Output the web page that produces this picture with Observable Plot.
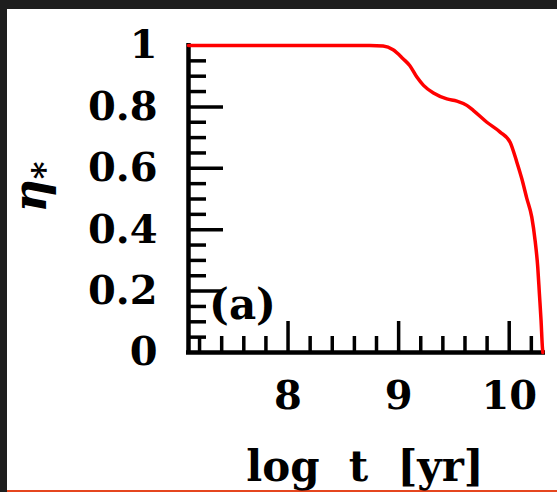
<!DOCTYPE html>
<html><head><meta charset="utf-8">
<script src="https://cdn.jsdelivr.net/npm/d3@7"></script>
<script src="https://cdn.jsdelivr.net/npm/@observablehq/plot@0.6"></script>
<style>
html,body{margin:0;padding:0;background:#1e1e1e;width:557px;height:492px;overflow:hidden}
#wrap{position:absolute;left:7px;top:9px;width:550px;height:481px;background:#fff;border-bottom:2px solid #e5461f}
</style></head><body><div id="wrap"></div>
<script>
// log t [yr]
const logT = [7.1, 8.74, 8.86, 8.95, 9.04, 9.10, 9.165, 9.225, 9.315, 9.436, 9.527, 9.617, 9.677, 9.798, 9.918, 10.008, 10.069, 10.114, 10.159, 10.204, 10.234, 10.258, 10.273, 10.288, 10.300, 10.304];
// eta_*
const etaStar = [1.0, 1.0, 0.998, 0.986, 0.957, 0.935, 0.897, 0.870, 0.845, 0.826, 0.819, 0.805, 0.788, 0.750, 0.718, 0.685, 0.620, 0.566, 0.502, 0.441, 0.365, 0.278, 0.191, 0.104, 0.017, 0.0];

const xTickLabels = [8, 9, 10];
const xMajor = [8, 9, 10];
const xMinor = [7.2, 7.4, 7.6, 7.8, 8.2, 8.4, 8.6, 8.8, 9.2, 9.4, 9.6, 9.8, 10.2];
const yTickLabels = [0, 0.2, 0.4, 0.6, 0.8, 1];
const yMajor = [0.2, 0.4, 0.6, 0.8];
const yMinor = [0.05, 0.1, 0.15, 0.25, 0.3, 0.35, 0.45, 0.5, 0.55, 0.65, 0.7, 0.75, 0.85, 0.9, 0.95];
const xDomain = [7.1, 10.31];
const yDomain = [0, 1];
const xLabel = "log  t  [yr]";
const yLabelMain = "η";
const yLabelSub = "*";
const panelLabel = "(a)";

const W = 550, H = 481, mL = 181, mR = 14, mT = 36, mB = 138;
const innerW = W - mL - mR, innerH = H - mT - mB;
const data = logT.map((x, i) => ({x, y: etaStar[i]}));

const chart = Plot.plot({
  width: W, height: H,
  marginLeft: mL, marginRight: mR, marginTop: mT, marginBottom: mB,
  x: {domain: xDomain},
  y: {domain: yDomain},
  style: {background: "white", fontFamily: "'DejaVu Serif', serif", fontWeight: "bold", color: "black", overflow: "visible"},
  marks: [
    Plot.ruleX(xMinor, {x: d => d, stroke: "black", strokeWidth: 3.5, insetTop: innerH - 16}),
    Plot.ruleX(xMajor, {x: d => d, stroke: "black", strokeWidth: 3.5, insetTop: innerH - 31}),
    Plot.ruleY(yMinor, {y: d => d, stroke: "black", strokeWidth: 3.5, insetRight: innerW - 18}),
    Plot.ruleY(yMajor, {y: d => d, stroke: "black", strokeWidth: 3.5, insetRight: innerW - 35}),
    Plot.ruleX([xDomain[0]], {x: d => d, stroke: "black", strokeWidth: 4.5, insetTop: -2, insetBottom: -2}),
    Plot.ruleY([yDomain[0]], {y: d => d, stroke: "black", strokeWidth: 4.5, insetLeft: -2, insetRight: -2}),
    Plot.axisY(yTickLabels, {tickSize: 0, tickPadding: 31, fontSize: 40, label: null, fill: "black", tickFormat: d => String(d)}),
    Plot.axisX(xTickLabels, {tickSize: 0, tickPadding: 28, fontSize: 40, label: null, fill: "black", tickFormat: d => String(d)}),
    Plot.text([panelLabel], {text: d => d, frameAnchor: "bottom-left", textAnchor: "middle", lineAnchor: "middle", dx: 54, dy: -47, fontSize: 42, fill: "black"}),
    Plot.line(data, {x: "x", y: "y", stroke: "#ff0000", strokeWidth: 3.5, curve: "monotone-x"})
  ]
});

const svg = d3.select(chart);
svg.append("text")
  .attr("x", 358).attr("y", 472)
  .attr("text-anchor", "middle")
  .style("font-size", "42px").style("white-space", "pre").attr("fill", "black")
  .text(xLabel);
const yl = svg.append("text")
  .attr("transform", "translate(39,178) rotate(-90)")
  .attr("text-anchor", "middle").attr("fill", "black")
  .style("font-size", "46px");
yl.append("tspan").style("font-style", "italic").style("font-weight", "600").text(yLabelMain);
yl.append("tspan").attr("dy", "0.3em").style("font-size", "34px").text(yLabelSub);

document.getElementById("wrap").appendChild(chart);
</script>
</body></html>
